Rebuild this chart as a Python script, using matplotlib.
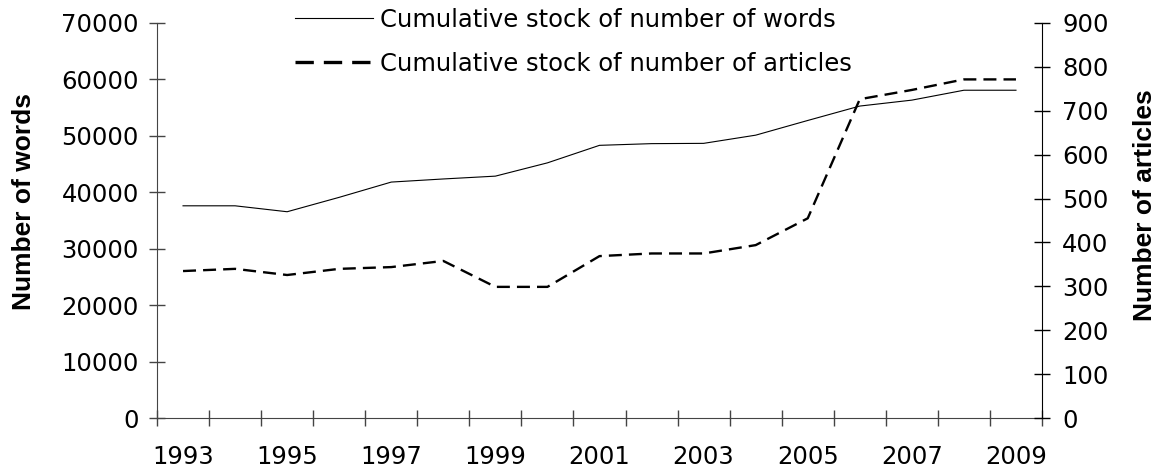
from matplotlib import pyplot as plt
from matplotlib.ticker import FixedLocator, NullFormatter
import numpy as np

# Data
years = [str(y) for y in range(1993, 2010)]
words = [37600, 37600, 36550, 39100, 41800, 42350, 42850, 45200, 48300,
         48600, 48650, 50100, 52700, 55250, 56300, 58050, 58050]
articles = [335, 340, 326, 340, 344, 358, 299, 299, 369,
            375, 375, 394, 455, 726, 747, 771, 771]

label_words = "Cumulative stock of number of words"
label_articles = "Cumulative stock of number of articles"

plt.rcParams['font.family'] = 'DejaVu Sans'
fs = 17.5
label_font = dict(family='Liberation Sans', fontsize=19, fontweight='bold')

fig = plt.figure(figsize=(11.62, 4.75), dpi=100)
ax = fig.add_axes([157/1162, 1 - 418.3/475, 885/1162, 395.6/475])
ax2 = ax.twinx()

x = np.arange(len(years))
l1, = ax.plot(x, words, color='black', lw=0.8, label=label_words)
l2, = ax2.plot(x, articles, color='black', lw=1.7, ls=(0, (5.5, 3.0)), label=label_articles)

ax.set_xlim(-0.5, len(years) - 0.5)
ax.set_ylim(0, 70000)
ax2.set_ylim(0, 900)
ax.set_yticks(np.arange(0, 70001, 10000))
ax2.set_yticks(np.arange(0, 901, 100))

# category axis: ticks between categories, labels on every other category
ax.xaxis.set_major_locator(FixedLocator(np.arange(-0.5, len(years), 1.0)))
ax.xaxis.set_major_formatter(NullFormatter())
ax.xaxis.set_minor_locator(FixedLocator(x[::2]))
ax.set_xticklabels(years[::2], minor=True)
ax.tick_params(axis='x', which='major', direction='inout', length=11, width=1, color='#444444')
ax.tick_params(axis='x', which='minor', length=0, pad=19, labelsize=fs)
ax.tick_params(axis='y', direction='inout', length=12, width=1, color='#444444', pad=7, labelsize=fs)
ax2.tick_params(axis='y', direction='inout', length=11, width=1, color='black', pad=9, labelsize=fs)

for a in (ax, ax2):
    a.spines['top'].set_visible(False)
ax.spines['right'].set_visible(False)
ax2.spines['left'].set_visible(False)
ax2.spines['bottom'].set_visible(False)
ax.spines['left'].set_color('#444444')
ax.spines['bottom'].set_color('#444444')
ax2.spines['right'].set_color('black')

ax.set_ylabel("Number of words", **label_font)
ax.yaxis.set_label_coords(-0.137, 0.548)
ax2.set_ylabel("Number of articles", **label_font)
ax2.yaxis.set_label_coords(1.103, 0.539)

leg = fig.legend(handles=[l1, l2], loc='upper left', bbox_to_anchor=(295/1162, 1 - 8/475),
                 frameon=False, fontsize=fs, handlelength=3.2, handletextpad=0.29,
                 labelspacing=0.82, borderaxespad=0, borderpad=0)
leg.get_lines()[1].set_linewidth(2.4)

plt.savefig("out.png", dpi=100)
